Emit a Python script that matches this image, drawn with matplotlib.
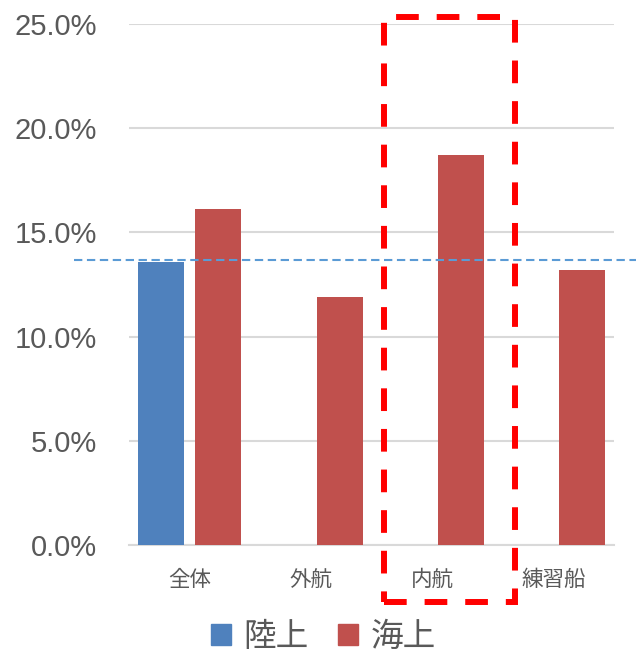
import matplotlib
matplotlib.use("Agg")
import matplotlib.pyplot as plt
import matplotlib.transforms as mtransforms
from matplotlib.patches import Rectangle, Patch
import numpy as np

# data
categories = ["全体", "外航", "内航", "練習船"]
land = [0.136, np.nan, np.nan, np.nan]      # 陸上
sea = [0.161, 0.119, 0.187, 0.132]          # 海上
land_avg = 0.1368                            # dashed reference line
yticks = [0.0, 0.05, 0.10, 0.15, 0.20, 0.25]
highlight = "内航"

BLUE = "#4F81BD"
RED = "#C0504D"
TXT = "#595959"
GRID = "#D9D9D9"

plt.rcParams['font.family'] = ['Noto Sans CJK JP', 'DejaVu Sans']

fig = plt.figure(figsize=(6.36, 6.53), dpi=100)
ax = fig.add_axes([129 / 636, 108 / 653, 485 / 636, 521 / 653])

x = np.arange(len(categories))
w = 0.38
off = 0.237
ax.bar(x - off, land, width=w, color=BLUE, label="陸上", zorder=2)
ax.bar(x + off, sea, width=w, color=RED, label="海上", zorder=2)

ax.set_xlim(-0.5, len(categories) - 0.5)
ax.set_ylim(0, 0.25)
ax.set_yticks(yticks)
ax.set_yticklabels([f"{v * 100:.1f}%" for v in yticks],
                   family="Liberation Sans", fontsize=21, color=TXT)
ax.set_xticks(x)
ax.set_xticklabels(categories, fontsize=15.5, color=TXT)
ax.tick_params(axis="y", length=0, pad=23)
ax.tick_params(axis="x", length=0, pad=17)

ax.grid(axis="y", color=GRID, linewidth=1.5, zorder=0)
for s in ["top", "right", "left"]:
    ax.spines[s].set_visible(False)
ax.spines["bottom"].set_color(GRID)
ax.spines["bottom"].set_linewidth(1.5)
ax.spines["bottom"].set_zorder(1)

# average line, runs past the plot area on both sides
trans = mtransforms.blended_transform_factory(ax.transAxes, ax.transData)
ax.plot([-0.113, 1.05], [land_avg, land_avg], transform=trans, clip_on=False,
        color="#5B9BD5", linewidth=1.5, dashes=(4, 2.2), zorder=3)

# red dashed box around the highlighted category
hi = categories.index(highlight)
trans2 = mtransforms.blended_transform_factory(ax.transData, ax.transAxes)
box = Rectangle((hi - 0.394, -0.109), 1.077, 1.123, transform=trans2,
                fill=False, edgecolor="#FF0000", linewidth=4.3,
                linestyle=(0, (3.8, 3)), clip_on=False, zorder=4)
ax.add_patch(box)

handles = [Patch(color=BLUE, label="陸上"), Patch(color=RED, label="海上")]
leg = fig.legend(handles=handles, loc="center", bbox_to_anchor=(0.509, 0.024),
                 ncol=2, frameon=False, fontsize=23.5, handlelength=0.6,
                 handleheight=0.6, handletextpad=0.4, columnspacing=0.9)
for t in leg.get_texts():
    t.set_color(TXT)

fig.savefig("out.png", dpi=100)
